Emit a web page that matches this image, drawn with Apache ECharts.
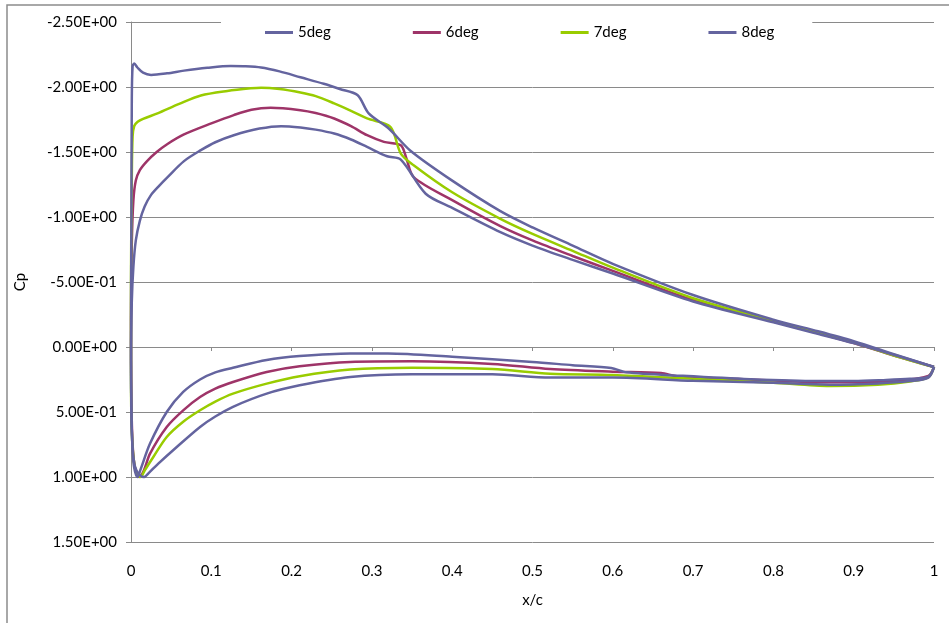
<!DOCTYPE html>
<html>
<head>
<meta charset="utf-8">
<script src="https://cdn.jsdelivr.net/npm/echarts@6/dist/echarts.min.js"></script>
<style>html,body{margin:0;padding:0;background:#fff}#c{width:949px;height:623px}</style>
</head>
<body>
<div id="c"></div>
<script>
// Series names
const seriesNames = ['5deg', '6deg', '7deg', '8deg'];

// 5deg: trailing edge -> upper surface -> leading edge -> lower surface -> trailing edge
const deg5X = [1.0,0.95,0.9,0.85,0.8,0.7,0.6,0.55,0.5,0.46,0.4,0.367,0.336,0.319,0.294,0.274,0.253,0.23,0.211,0.187,0.16,0.128,0.105,0.087,0.066,0.0456,0.035,0.025,0.017,0.011,0.006,0.003,0.001,0.0,
  0.0005,0.002,0.004,0.0079,0.012,0.0237,0.0445,0.065,0.086,0.105,0.127,0.169,0.21,0.273,0.32,0.4,0.5,0.55,0.598,0.617,0.687,0.771,0.854,0.9,0.937,0.97,0.993,1.0];
const deg5Cp = [0.154,0.06,-0.03,-0.11,-0.19,-0.35,-0.565,-0.67,-0.78,-0.883,-1.07,-1.179,-1.442,-1.467,-1.539,-1.596,-1.642,-1.672,-1.689,-1.699,-1.68,-1.629,-1.575,-1.514,-1.43,-1.307,-1.24,-1.17,-1.08,-0.97,-0.82,-0.62,-0.35,0.1,
  0.5,0.8,0.93,1.0,0.94,0.743,0.5,0.346,0.25,0.195,0.16,0.1,0.07,0.05,0.05,0.075,0.115,0.14,0.162,0.195,0.222,0.248,0.262,0.262,0.255,0.245,0.228,0.154];

const deg6X = [1.0,0.95,0.9,0.85,0.8,0.7,0.6,0.55,0.5,0.46,0.4,0.352,0.343,0.336,0.315,0.294,0.274,0.253,0.23,0.211,0.174,0.15,0.128,0.1,0.066,0.045,0.032,0.02,0.011,0.006,0.003,0.001,0.0,
  0.0005,0.002,0.005,0.0104,0.016,0.0237,0.0445,0.065,0.086,0.105,0.127,0.169,0.21,0.273,0.35,0.45,0.522,0.6,0.66,0.68,0.75,0.8,0.85,0.9,0.95,0.993,1.0];
const deg6Cp = [0.154,0.065,-0.03,-0.115,-0.195,-0.36,-0.585,-0.70,-0.82,-0.93,-1.13,-1.307,-1.45,-1.552,-1.578,-1.629,-1.699,-1.758,-1.80,-1.822,-1.84,-1.825,-1.784,-1.72,-1.635,-1.56,-1.5,-1.43,-1.36,-1.28,-1.13,-0.8,-0.2,
  0.4,0.75,0.93,1.0,0.95,0.82,0.615,0.487,0.385,0.32,0.269,0.192,0.148,0.115,0.11,0.13,0.17,0.19,0.2,0.225,0.245,0.258,0.27,0.272,0.262,0.222,0.154];

const deg7X = [1.0,0.95,0.9,0.85,0.8,0.7,0.6,0.55,0.5,0.46,0.4,0.352,0.336,0.323,0.294,0.274,0.253,0.23,0.211,0.185,0.162,0.149,0.12,0.087,0.06,0.033,0.015,0.0083,0.004,0.002,0.001,0.0,
  0.0,0.001,0.004,0.008,0.012,0.017,0.0278,0.0445,0.065,0.086,0.105,0.127,0.169,0.21,0.273,0.35,0.45,0.522,0.6,0.7,0.8,0.87,0.93,0.97,0.993,1.0];
const deg7Cp = [0.154,0.065,-0.035,-0.12,-0.2,-0.375,-0.61,-0.74,-0.87,-0.986,-1.19,-1.398,-1.488,-1.693,-1.758,-1.817,-1.874,-1.93,-1.958,-1.985,-1.995,-1.99,-1.97,-1.935,-1.87,-1.797,-1.755,-1.732,-1.70,-1.62,-1.3,-0.5,
  0.2,0.65,0.9,0.98,1.0,0.95,0.846,0.692,0.575,0.487,0.42,0.359,0.282,0.225,0.174,0.16,0.17,0.205,0.215,0.245,0.275,0.3,0.29,0.265,0.232,0.154];

const deg8X = [1.0,0.95,0.9,0.85,0.8,0.7,0.6,0.55,0.5,0.46,0.4,0.348,0.321,0.296,0.282,0.26,0.24,0.211,0.185,0.162,0.14,0.124,0.095,0.066,0.045,0.025,0.015,0.008,0.004,0.002,0.001,0.0005,0.0,
  0.0005,0.002,0.005,0.01,0.0162,0.022,0.034,0.057,0.086,0.105,0.127,0.169,0.21,0.273,0.35,0.45,0.522,0.6,0.7,0.8,0.87,0.93,0.97,0.993,1.0];
const deg8Cp = [0.154,0.055,-0.045,-0.13,-0.21,-0.40,-0.64,-0.78,-0.92,-1.045,-1.28,-1.51,-1.681,-1.797,-1.938,-1.985,-2.025,-2.075,-2.12,-2.15,-2.16,-2.162,-2.148,-2.126,-2.105,-2.093,-2.11,-2.15,-2.18,-2.16,-1.9,-1.0,0.0,
  0.5,0.78,0.92,0.98,1.0,0.97,0.897,0.769,0.615,0.535,0.46,0.359,0.295,0.231,0.21,0.21,0.235,0.235,0.26,0.275,0.29,0.28,0.262,0.235,0.154];

// Axis ticks and labels
const xTicks = [0,0.1,0.2,0.3,0.4,0.5,0.6,0.7,0.8,0.9,1];
const xTickLabels = ['0','0.1','0.2','0.3','0.4','0.5','0.6','0.7','0.8','0.9','1'];
const yTicks = [-2.5,-2.0,-1.5,-1.0,-0.5,0,0.5,1.0,1.5];
const yTickLabels = ['-2.50E+00','-2.00E+00','-1.50E+00','-1.00E+00','-5.00E-01','0.00E+00','5.00E-01','1.00E+00','1.50E+00'];

const colors = ['#64649F', '#9E3468', '#99CC00', '#64649F'];
const xs = [deg5X, deg6X, deg7X, deg8X];
const cps = [deg5Cp, deg6Cp, deg7Cp, deg8Cp];

function lookup(ticks, labels, v) {
  for (let i = 0; i < ticks.length; i++) if (Math.abs(ticks[i] - v) < 1e-6) return labels[i];
  return '';
}

const FONT = 'Lato';
const FS = 15;
const gridColor = '#8a8a8a';

const series = seriesNames.map((name, i) => ({
  name: name,
  type: 'line',
  xAxisIndex: 0,
  yAxisIndex: 0,
  data: xs[i].map((x, j) => [x, cps[i][j]]),
  showSymbol: false,
  symbol: 'none',
  smooth: 0.3,
  lineStyle: { color: colors[i], width: 2.5 },
  itemStyle: { color: colors[i] },
  z: 2 + (i === 0 ? 0.5 : 0)
}));

const chart = echarts.init(document.getElementById('c'), null, { renderer: 'canvas' });
chart.setOption({
  backgroundColor: '#ffffff',
  animation: false,
  color: colors,
  textStyle: { fontFamily: FONT },
  graphic: [{
    type: 'rect', silent: true, z: -10,
    shape: { x: 7, y: 5, width: 1000, height: 700 },
    style: { fill: 'none', stroke: '#8c8c8c', lineWidth: 1.5 }
  }],
  legend: {
    data: seriesNames,
    left: 221,
    top: 12,
    padding: [13, 38, 10, 44],
    backgroundColor: '#ffffff',
    icon: 'rect',
    itemWidth: 28,
    itemHeight: 3,
    itemGap: 82,
    textStyle: { fontFamily: FONT, fontSize: FS, color: '#000' },
    z: 10
  },
  grid: { left: 131, right: 15, top: 22, bottom: 81, containLabel: false },
  xAxis: [{
    type: 'value', position: 'bottom', min: 0, max: 1, interval: 0.1,
    name: 'x/c', nameLocation: 'middle', nameGap: 51,
    nameTextStyle: { fontFamily: FONT, fontSize: FS, color: '#000' },
    axisLine: { show: false }, axisTick: { show: false }, splitLine: { show: false },
    axisLabel: { margin: 22, fontFamily: FONT, fontSize: FS, color: '#000',
      formatter: v => lookup(xTicks, xTickLabels, v) }
  }, {
    type: 'value', position: 'top', min: 0, max: 1, interval: 0.1,
    axisLine: { show: true, onZero: true, onZeroAxisIndex: 0, lineStyle: { color: gridColor, width: 1 } },
    axisTick: { show: true, inside: true, length: 4, lineStyle: { color: gridColor } },
    axisLabel: { show: false }, splitLine: { show: false }
  }],
  yAxis: [{
    type: 'value', inverse: true, min: -2.5, max: 1.5, interval: 0.5,
    name: 'Cp', nameLocation: 'middle', nameGap: 103, nameRotate: 90,
    nameTextStyle: { fontFamily: FONT, fontSize: FS, color: '#000' },
    axisLine: { show: true, lineStyle: { color: gridColor, width: 1 } },
    axisTick: { show: true, inside: false, length: 5, lineStyle: { color: gridColor } },
    splitLine: { show: true, lineStyle: { color: gridColor, width: 1 } },
    axisLabel: { margin: 14, fontFamily: FONT, fontSize: FS, color: '#000',
      formatter: v => lookup(yTicks, yTickLabels, v) }
  }],
  series: series
});
</script>
</body>
</html>
